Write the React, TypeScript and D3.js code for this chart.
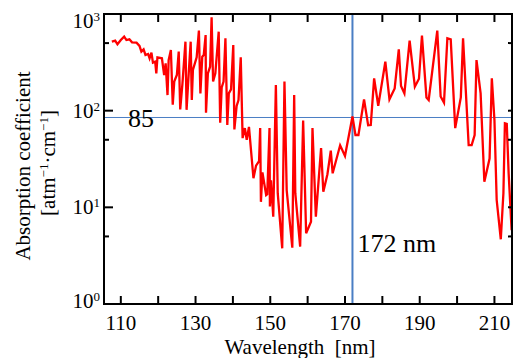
import React, { useRef, useEffect } from "react";
import * as d3 from "d3";

// wavelength [nm] and absorption coefficient [atm^-1 cm^-1]
const wavelength = [
  107.6, 108.5, 109.1, 110.0, 110.9, 111.5, 112.3, 113.0, 114.2, 115.0,
  115.5, 116.1, 116.6, 117.3, 117.7, 118.2, 118.6, 119.2, 119.5, 119.8,
  121.0, 121.6, 122.0, 122.5, 122.8, 123.4, 123.9, 124.3, 125.0, 125.5,
  125.9, 126.5, 127.3, 127.6, 128.2, 128.7, 129.0, 129.3, 130.3, 130.9,
  131.3, 131.8, 132.2, 132.7, 132.8, 133.3, 133.9, 134.3, 134.7, 135.3,
  136.2, 136.6, 137.0, 137.5, 138.0, 138.5, 138.9, 139.5, 140.1, 140.4,
  141.0, 141.5, 142.1, 142.6, 143.2, 143.7, 144.3, 145.5, 146.2, 147.0,
  147.3, 147.5, 147.9, 148.9, 149.2, 149.8, 149.9, 150.2, 150.8, 151.5,
  152.0, 153.2, 153.8, 154.4, 155.9, 156.4, 156.7, 158.0, 158.8, 159.6,
  160.9, 161.3, 162.2, 163.6, 164.2, 165.3, 166.2, 166.7, 168.7, 170.0,
  172.0, 172.8, 173.6, 175.1, 176.2, 176.9, 177.8, 178.9, 180.8, 181.9,
  183.3, 184.4, 185.0, 185.9, 187.3, 188.7, 189.8, 190.6, 191.8, 192.4,
  194.7, 195.6, 196.5, 197.4, 198.3, 199.5, 201.0, 201.6, 203.1, 203.9,
  204.7, 205.2, 206.3, 207.3, 208.7, 209.3, 210.0, 210.6, 211.7, 212.4,
  212.8, 213.3, 213.8, 214.6,
];
const absorption = [
  517, 530, 486, 538, 583, 538, 547, 509, 505, 467,
  408, 431, 377, 386, 348, 398, 314, 321, 243, 356,
  348, 234, 309, 145, 334, 424, 115, 200, 234, 408,
  103, 192, 517, 102, 253, 517, 129, 264, 356, 673,
  151, 362, 377, 606, 95, 243, 285, 924, 200, 243,
  656, 75, 174, 200, 560, 71, 151, 166, 478, 64,
  112, 129, 356, 52, 66, 50, 68, 20, 27, 30,
  66, 11.4, 23, 13.4, 13.7, 66, 10.2, 19, 8.0, 184,
  14, 3.77, 200, 15, 3.83, 145, 14, 3.92, 79, 5.4,
  7.1, 66, 8.0, 41, 14.5, 22, 38.6, 22.5, 43.8, 34,
  87, 56, 56, 131, 70.5, 71, 216, 112, 321, 131,
  170, 431, 180, 151, 530, 177, 214, 597, 137, 129,
  673, 140, 121, 560, 547, 66, 137, 560, 44, 44,
  56, 334, 151, 18.4, 32, 216, 80, 11.9, 4.67, 14,
  74, 73, 22.5, 5.8,
];

const xTickValues = [110, 120, 130, 140, 150, 160, 170, 180, 190, 200, 210];
const xTickLabels = [110, 130, 150, 170, 190, 210];
const yMajorTicks = [1, 10, 100, 1000];
const yMinorTicks = [5, 50, 500];
const markWavelength = 172;
const markValue = 85;

const App = () => {
  const svgRef = useRef(null);
  const width = 522;
  const height = 358;
  const margin = { left: 104, right: 10, top: 14, bottom: 54 };
  const font = "'Liberation Serif', 'Times New Roman', serif";

  useEffect(() => {
    const svg = d3.select(svgRef.current);
    svg.selectAll("*").remove();

    const x0 = margin.left;
    const x1 = width - margin.right;
    const y0 = margin.top;
    const y1 = height - margin.bottom;

    const xScale = d3.scaleLinear().domain([105.5, 214.7]).range([x0, x1]);
    const yScale = d3.scaleLog().domain([1, 1000]).range([y1, y0]);

    const data = wavelength.map((w, i) => ({ x: w, y: absorption[i] }));

    // marker lines
    svg.append("line")
      .attr("x1", x0).attr("x2", x1)
      .attr("y1", yScale(markValue)).attr("y2", yScale(markValue))
      .attr("stroke", "#4a7ec4").attr("stroke-width", 1);
    svg.append("line")
      .attr("x1", xScale(markWavelength)).attr("x2", xScale(markWavelength))
      .attr("y1", y0).attr("y2", y1)
      .attr("stroke", "#4a7ec4").attr("stroke-width", 2);

    // spectrum
    const line = d3.line()
      .x(d => xScale(d.x))
      .y(d => yScale(d.y));
    svg.append("path")
      .datum(data)
      .attr("d", line)
      .attr("fill", "none")
      .attr("stroke", "#ff0000")
      .attr("stroke-width", 2.3)
      .attr("stroke-linejoin", "miter");

    // ticks (inside)
    const ticks = svg.append("g").attr("stroke", "#000").attr("stroke-width", 2);
    xTickValues.forEach(v => {
      ticks.append("line").attr("x1", xScale(v)).attr("x2", xScale(v)).attr("y1", y1).attr("y2", y1 - 8);
      ticks.append("line").attr("x1", xScale(v)).attr("x2", xScale(v)).attr("y1", y0).attr("y2", y0 + 8);
    });
    yMajorTicks.forEach(v => {
      ticks.append("line").attr("x1", x0).attr("x2", x0 + 9).attr("y1", yScale(v)).attr("y2", yScale(v));
      ticks.append("line").attr("x1", x1).attr("x2", x1 - 4).attr("y1", yScale(v)).attr("y2", yScale(v));
    });
    yMinorTicks.forEach(v => {
      ticks.append("line").attr("x1", x0).attr("x2", x0 + 5).attr("y1", yScale(v)).attr("y2", yScale(v));
      ticks.append("line").attr("x1", x1).attr("x2", x1 - 4).attr("y1", yScale(v)).attr("y2", yScale(v));
    });

    // frame
    svg.append("rect")
      .attr("x", x0).attr("y", y0)
      .attr("width", x1 - x0).attr("height", y1 - y0)
      .attr("fill", "none").attr("stroke", "#000").attr("stroke-width", 2);

    // x tick labels
    svg.append("g")
      .selectAll("text")
      .data(xTickLabels)
      .join("text")
      .attr("x", d => xScale(d))
      .attr("y", y1 + 26)
      .attr("text-anchor", "middle")
      .attr("font-family", font)
      .attr("font-size", 21)
      .text(d => d);

    // y tick labels 10^n
    yMajorTicks.forEach(v => {
      const base = Math.min(Math.max(yScale(v) + 7, y0 + 14), y1 + 4);
      const t = svg.append("text")
        .attr("x", x0 - 4)
        .attr("y", base)
        .attr("text-anchor", "end")
        .attr("font-family", font)
        .attr("font-size", 21);
      t.append("tspan").text("10");
      t.append("tspan").attr("dy", -7).attr("font-size", 13).text(Math.round(Math.log10(v)));
    });

    // axis titles
    svg.append("text")
      .attr("x", 300).attr("y", 354)
      .attr("text-anchor", "middle")
      .attr("font-family", font).attr("font-size", 21)
      .attr("xml:space", "preserve")
      .text("Wavelength  [nm]");

    svg.append("text")
      .attr("transform", "translate(30,166) rotate(-90)")
      .attr("text-anchor", "middle")
      .attr("font-family", font).attr("font-size", 21)
      .text("Absorption coefficient");

    const unit = svg.append("text")
      .attr("transform", "translate(55,163) rotate(-90)")
      .attr("text-anchor", "middle")
      .attr("font-family", font).attr("font-size", 21);
    unit.append("tspan").text("[atm");
    unit.append("tspan").attr("dy", -7).attr("font-size", 13).text("−1");
    unit.append("tspan").attr("dy", 7).text("·cm");
    unit.append("tspan").attr("dy", -7).attr("font-size", 13).text("−1");
    unit.append("tspan").attr("dy", 7).text("]");

    // annotations
    svg.append("text")
      .attr("x", 128).attr("y", 127)
      .attr("font-family", font).attr("font-size", 26)
      .text(markValue);
    svg.append("text")
      .attr("x", xScale(markWavelength) + 5).attr("y", 252)
      .attr("font-family", font).attr("font-size", 26)
      .text(`${markWavelength} nm`);
  }, []);

  return (
    <div style={{ position: "absolute", left: 0, top: 0 }}>
      <svg ref={svgRef} width={width} height={height} style={{ display: "block", background: "#fff" }}></svg>
    </div>
  );
};

export default App;
